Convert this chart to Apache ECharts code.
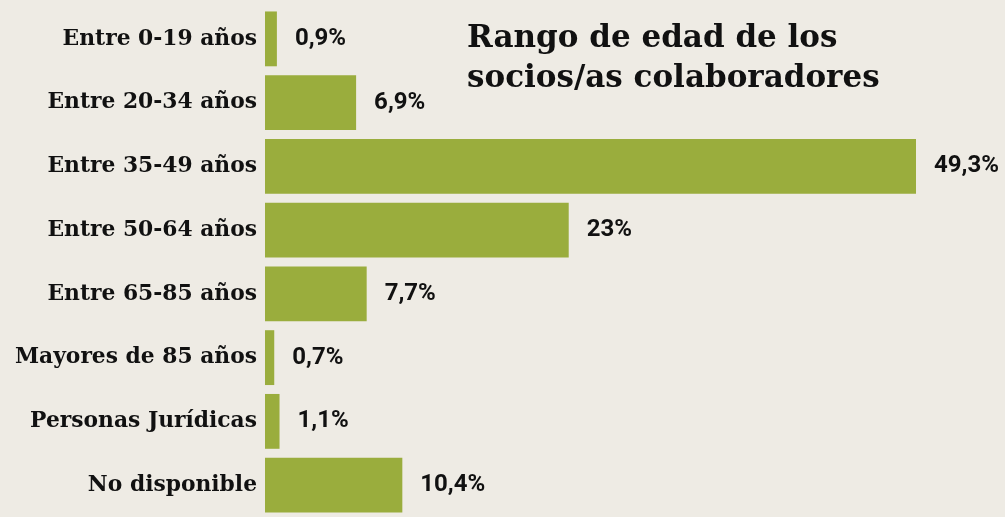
<!DOCTYPE html>
<html>
<head>
<meta charset="utf-8">
<script src="https://cdn.jsdelivr.net/npm/echarts@6/dist/echarts.min.js"></script>
<style>
  html, body { margin: 0; padding: 0; background: #eeebe4; }
  #chart { width: 1005px; height: 517px; }
</style>
</head>
<body>
<div id="chart"></div>
<script>
// rangos de edad, de arriba a abajo
var categorias = ['Entre 0-19 años', 'Entre 20-34 años', 'Entre 35-49 años', 'Entre 50-64 años',
    'Entre 65-85 años', 'Mayores de 85 años', 'Personas Jurídicas', 'No disponible'];
var porcentajes = [0.9, 6.9, 49.3, 23, 7.7, 0.7, 1.1, 10.4];
var etiquetas = ['0,9%', '6,9%', '49,3%', '23%', '7,7%', '0,7%', '1,1%', '10,4%'];

var serif = '"DejaVu Serif", serif';

var dom = document.getElementById('chart');
var myChart = echarts.init(dom);

var option = {
    backgroundColor: '#eeebe4',
    animation: false,
    title: {
        text: 'Rango de edad de los\nsocios/as colaboradores',
        left: 462,
        top: 14,
        textStyle: {
            fontFamily: serif,
            fontWeight: 'bold',
            fontSize: 31,
            lineHeight: 40,
            color: '#111'
        }
    },
    grid: {left: 265, right: 89, top: 7, height: 521},
    xAxis: {
        type: 'value',
        min: 0,
        max: 49.3,
        show: false
    },
    yAxis: {
        type: 'category',
        data: categorias,
        inverse: true,
        axisLine: {show: false},
        axisTick: {show: false},
        axisLabel: {
            margin: 8,
            fontFamily: serif,
            fontWeight: 'bold',
            fontSize: 21.8,
            color: '#111'
        }
    },
    series: [{
        type: 'bar',
        data: porcentajes,
        barCategoryGap: '14%',
        itemStyle: {color: '#9aad3d'},
        label: {
            show: true,
            position: 'right',
            distance: 18,
            formatter: function (p) {
                return etiquetas[p.dataIndex];
            },
            fontFamily: '"Roboto", sans-serif',
            fontWeight: 'bold',
            fontSize: 24,
            color: '#111'
        }
    }]
};

myChart.setOption(option);
</script>
</body>
</html>
